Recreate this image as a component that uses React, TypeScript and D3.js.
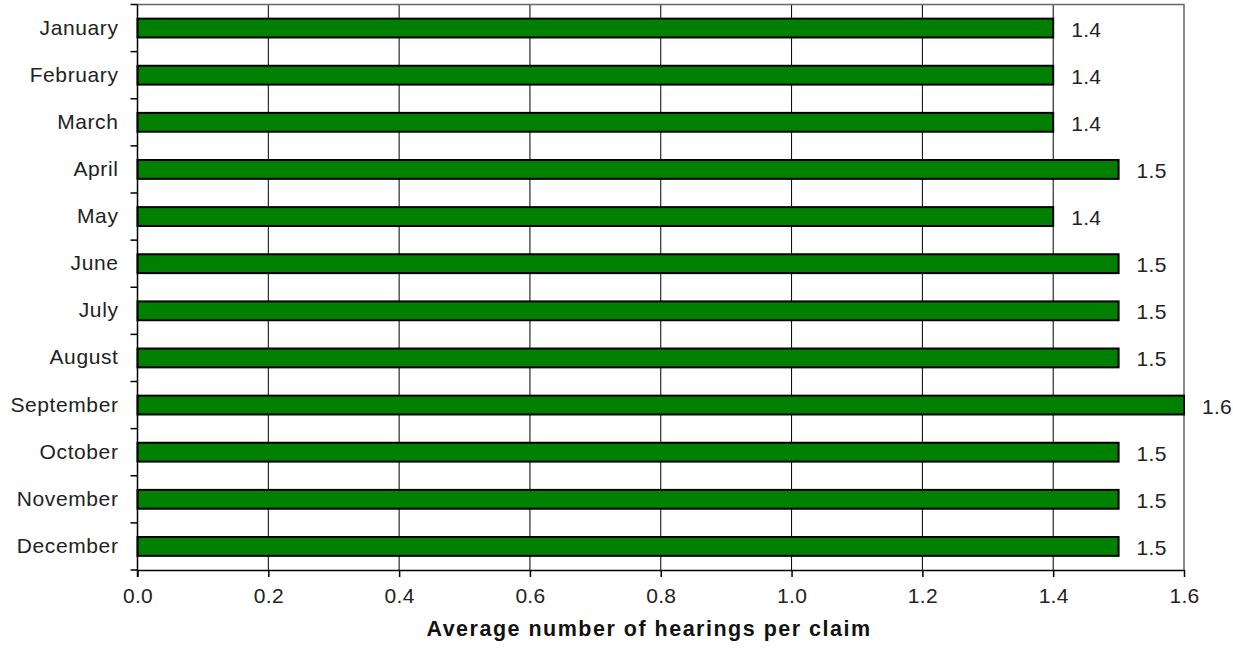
import React, { useRef, useEffect } from 'react';
import * as d3 from 'd3';

const months = ['January', 'February', 'March', 'April', 'May', 'June', 'July', 'August', 'September', 'October', 'November', 'December'];
const hearings = [1.4, 1.4, 1.4, 1.5, 1.4, 1.5, 1.5, 1.5, 1.6, 1.5, 1.5, 1.5];
const xTicks = [0, 0.2, 0.4, 0.6, 0.8, 1.0, 1.2, 1.4, 1.6];

const width = 1233;
const height = 648;

const App: React.FC = () => {
  const svgRef = useRef<SVGSVGElement | null>(null);

  useEffect(() => {
    const svg = d3.select(svgRef.current);
    svg.selectAll('*').remove();

    const margin = { top: 4.5, left: 137.5, right: 1184, bottom: 570 };
    const font = 'Arial, "Liberation Sans", sans-serif';

    const x = d3.scaleLinear().domain([0, 1.6]).range([margin.left, margin.right]);
    const y = d3.scaleBand<string>()
      .domain(months)
      .range([margin.top, margin.bottom])
      .paddingInner(0.6)
      .paddingOuter(0.3);
    const band = d3.scaleBand<string>().domain(months).range([margin.top, margin.bottom]);

    // grid lines
    svg.append('g')
      .selectAll('line')
      .data(xTicks.slice(1, -1))
      .enter()
      .append('line')
      .attr('x1', d => x(d)).attr('x2', d => x(d))
      .attr('y1', margin.top).attr('y2', margin.bottom)
      .attr('stroke', '#000').attr('stroke-width', 1);

    // border top / right
    svg.append('path')
      .attr('d', `M${margin.left},${margin.top}H${margin.right}V${margin.bottom}`)
      .attr('fill', 'none').attr('stroke', '#666').attr('stroke-width', 1.5);

    // bars
    svg.append('g')
      .selectAll('rect')
      .data(hearings)
      .enter()
      .append('rect')
      .attr('x', x(0))
      .attr('y', (d, i) => y(months[i])!)
      .attr('width', d => x(d) - x(0))
      .attr('height', y.bandwidth())
      .attr('fill', '#008000')
      .attr('stroke', '#000')
      .attr('stroke-width', 2);

    // value labels
    svg.append('g')
      .selectAll('text')
      .data(hearings)
      .enter()
      .append('text')
      .attr('x', d => x(d) + 18)
      .attr('y', (d, i) => y(months[i])! + y.bandwidth() / 2 + 8.5)
      .style('font-family', font)
      .style('font-size', '21px')
      .style('letter-spacing', '0.3px')
      .attr('fill', '#222')
      .text(d => d.toFixed(1));

    // x axis
    const xAxis = svg.append('g')
      .attr('transform', `translate(0,${margin.bottom})`)
      .call(d3.axisBottom(x).tickValues(xTicks).tickFormat(d3.format('.1f')).tickSize(7).tickSizeOuter(0).tickPadding(0));
    xAxis.select('.domain').attr('stroke-width', 1.5);
    xAxis.selectAll('.tick line').attr('stroke-width', 1.5);
    xAxis.selectAll('text')
      .attr('y', 33)
      .attr('dy', null)
      .style('font-family', font)
      .style('font-size', '21px')
      .style('letter-spacing', '0.3px')
      .attr('fill', '#222');

    // y axis: ticks at band boundaries
    const yAxis = svg.append('g').attr('transform', `translate(${margin.left},0)`);
    yAxis.append('line')
      .attr('x1', 0).attr('x2', 0)
      .attr('y1', margin.top).attr('y2', margin.bottom + 7)
      .attr('stroke', '#000').attr('stroke-width', 1.5);
    yAxis.selectAll('line.tick')
      .data(months)
      .enter()
      .append('line')
      .attr('class', 'tick')
      .attr('x1', -7).attr('x2', 0)
      .attr('y1', (d, i) => i === 0 ? margin.top : band(d)!)
      .attr('y2', (d, i) => i === 0 ? margin.top : band(d)!)
      .attr('stroke', '#000').attr('stroke-width', 1.5);
    yAxis.append('line')
      .attr('x1', -7).attr('x2', 0)
      .attr('y1', margin.bottom).attr('y2', margin.bottom)
      .attr('stroke', '#000').attr('stroke-width', 1.5);
    yAxis.selectAll('text')
      .data(months)
      .enter()
      .append('text')
      .attr('x', -19)
      .attr('y', d => y(d)! + y.bandwidth() / 2 + 6.5)
      .attr('text-anchor', 'end')
      .style('font-family', font)
      .style('font-size', '21px')
      .style('letter-spacing', '0.6px')
      .attr('fill', '#222')
      .text(d => d);

    // axis title
    svg.append('text')
      .attr('x', 649)
      .attr('y', 636)
      .attr('text-anchor', 'middle')
      .style('font-family', font)
      .style('font-size', '21.5px')
      .style('font-weight', 'bold')
      .style('letter-spacing', '1.5px')
      .attr('fill', '#111')
      .text('Average number of hearings per claim');
  }, []);

  return (
    <svg
      ref={svgRef}
      width={width}
      height={height}
      style={{ position: 'absolute', left: 0, top: 0, background: '#fff' }}
    />
  );
};

export default App;
